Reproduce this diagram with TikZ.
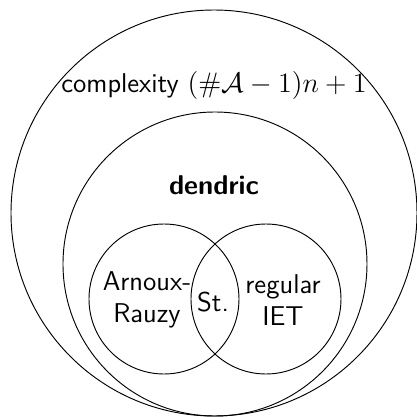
\documentclass[tikz,border=0pt]{standalone}
\usepackage{tikz}
\begin{document}
\begin{tikzpicture}[every node/.style={font=\sffamily\fontsize{11.6}{13.4}\selectfont, align=center}]
  \useasboundingbox (-3.21,-0.015) rectangle (3.045,6.24);
  \node[draw, circle, minimum size=6.09cm, inner sep=0] (cplx) at (0,3.045) {};
  \node[draw, circle, minimum size=4.56cm, inner sep=0] (dend) at (0.015,2.28) {};
  \node[draw, circle, minimum size=2.25cm, inner sep=0] (ar) at (-0.75,1.755) {};
  \node[draw, circle, minimum size=2.25cm, inner sep=0] (iet) at (0.78,1.755) {};

  \node (cplxlab) at (0,4.965) {complexity $(\#\mathcal{A}-1)n+1$};
  \node (dendlab) at (0,3.465) {\bfseries dendric};
  \node (arlab) at (-1.005,1.74) {Arnoux-\\Rauzy};
  \node (stlab) at (-0.015,1.71) {St.};
  \node (ietlab) at (1.035,1.74) {regular\\IET};
\end{tikzpicture}
\end{document}
